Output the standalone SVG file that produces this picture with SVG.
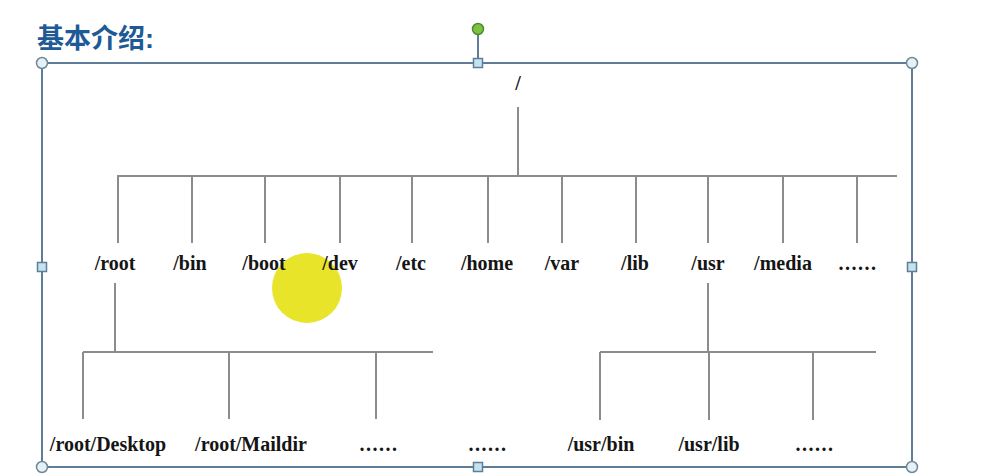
<svg xmlns="http://www.w3.org/2000/svg" width="991" height="474" viewBox="0 0 991 474">
  <style>
    .t{font-family:"Liberation Serif","Times New Roman",serif;font-weight:bold;font-size:20px;fill:#151515;text-anchor:middle}
    .d{letter-spacing:1.5px}
    .ln{stroke:#8c8c8c;stroke-width:2;fill:none}
    .frame{stroke:#5f7d99;stroke-width:2;fill:none}
    .hc{fill:#e4f1f6;stroke:#6f8799;stroke-width:1.5}
    .hs{fill:#c4e3ef;stroke:#5f7d99;stroke-width:1.5}
  </style>
  <rect width="991" height="474" fill="#ffffff"/>
  <text x="37" y="48" font-family="'Liberation Sans','Noto Sans CJK SC',sans-serif" font-weight="bold" font-size="27" fill="#1f5a96">基本介绍:</text>
  <g id="highlight"><circle cx="307" cy="288" r="35" fill="#e8e42a"/></g>
  <g id="selection">
    <line x1="478" y1="30" x2="478" y2="63" stroke="#5f7d99" stroke-width="2"/>
    <rect class="frame" x="42" y="63" width="870" height="404"/>
    <circle cx="478" cy="29" r="5.5" fill="#7cc242" stroke="#4f8a2e" stroke-width="1.5"/>
    <circle class="hc" cx="42" cy="63" r="5.5"/>
    <circle class="hc" cx="912" cy="63" r="5.5"/>
    <circle class="hc" cx="42" cy="467" r="5.5"/>
    <circle class="hc" cx="912" cy="467" r="5.5"/>
    <rect class="hs" x="473.5" y="58.5" width="9" height="9"/>
    <rect class="hs" x="473.5" y="462.5" width="9" height="9"/>
    <rect class="hs" x="37.5" y="262.5" width="9" height="9"/>
    <rect class="hs" x="907.5" y="262.5" width="9" height="9"/>
  </g>
  <g id="connectors">
    <line class="ln" x1="518" y1="107" x2="518" y2="176"/>
    <line class="ln" x1="117" y1="176" x2="897" y2="176"/>
    <path class="ln" d="M118 176V243M192 176V243M265 176V243M340 176V243M412 176V243M488 176V243M562 176V243M636 176V243M708 176V243M783 176V243M857 176V243"/>
    <line class="ln" x1="115" y1="283" x2="115" y2="352"/>
    <line class="ln" x1="83" y1="352" x2="433" y2="352"/>
    <path class="ln" d="M83 352V419M229 352V419M376 352V419"/>
    <line class="ln" x1="708" y1="283" x2="708" y2="352"/>
    <line class="ln" x1="600" y1="352" x2="876" y2="352"/>
    <path class="ln" d="M600 352V420M709 352V420M813 352V420"/>
  </g>
  <g id="n-root-dir"><text class="t" x="518" y="90">/</text></g>
  <g id="n-root"><text class="t" x="115" y="270">/root</text></g>
  <g id="n-bin"><text class="t" x="190" y="270">/bin</text></g>
  <g id="n-boot"><text class="t" x="264" y="270">/boot</text></g>
  <g id="n-dev"><text class="t" x="340" y="270">/dev</text></g>
  <g id="n-etc"><text class="t" x="411" y="270">/etc</text></g>
  <g id="n-home"><text class="t" x="487" y="270">/home</text></g>
  <g id="n-var"><text class="t" x="562" y="270">/var</text></g>
  <g id="n-lib"><text class="t" x="635" y="270">/lib</text></g>
  <g id="n-usr"><text class="t" x="708" y="270">/usr</text></g>
  <g id="n-media"><text class="t" x="783" y="270">/media</text></g>
  <g id="n-more1"><text class="t d" x="858" y="270">......</text></g>
  <g id="n-desktop"><text class="t" x="108" y="451">/root/Desktop</text></g>
  <g id="n-maildir"><text class="t" x="251" y="451">/root/Maildir</text></g>
  <g id="n-more2"><text class="t d" x="379" y="451">......</text></g>
  <g id="n-more3"><text class="t d" x="488" y="451">......</text></g>
  <g id="n-usrbin"><text class="t" x="601" y="451">/usr/bin</text></g>
  <g id="n-usrlib"><text class="t" x="709" y="451">/usr/lib</text></g>
  <g id="n-more4"><text class="t d" x="815" y="451">......</text></g>
</svg>
